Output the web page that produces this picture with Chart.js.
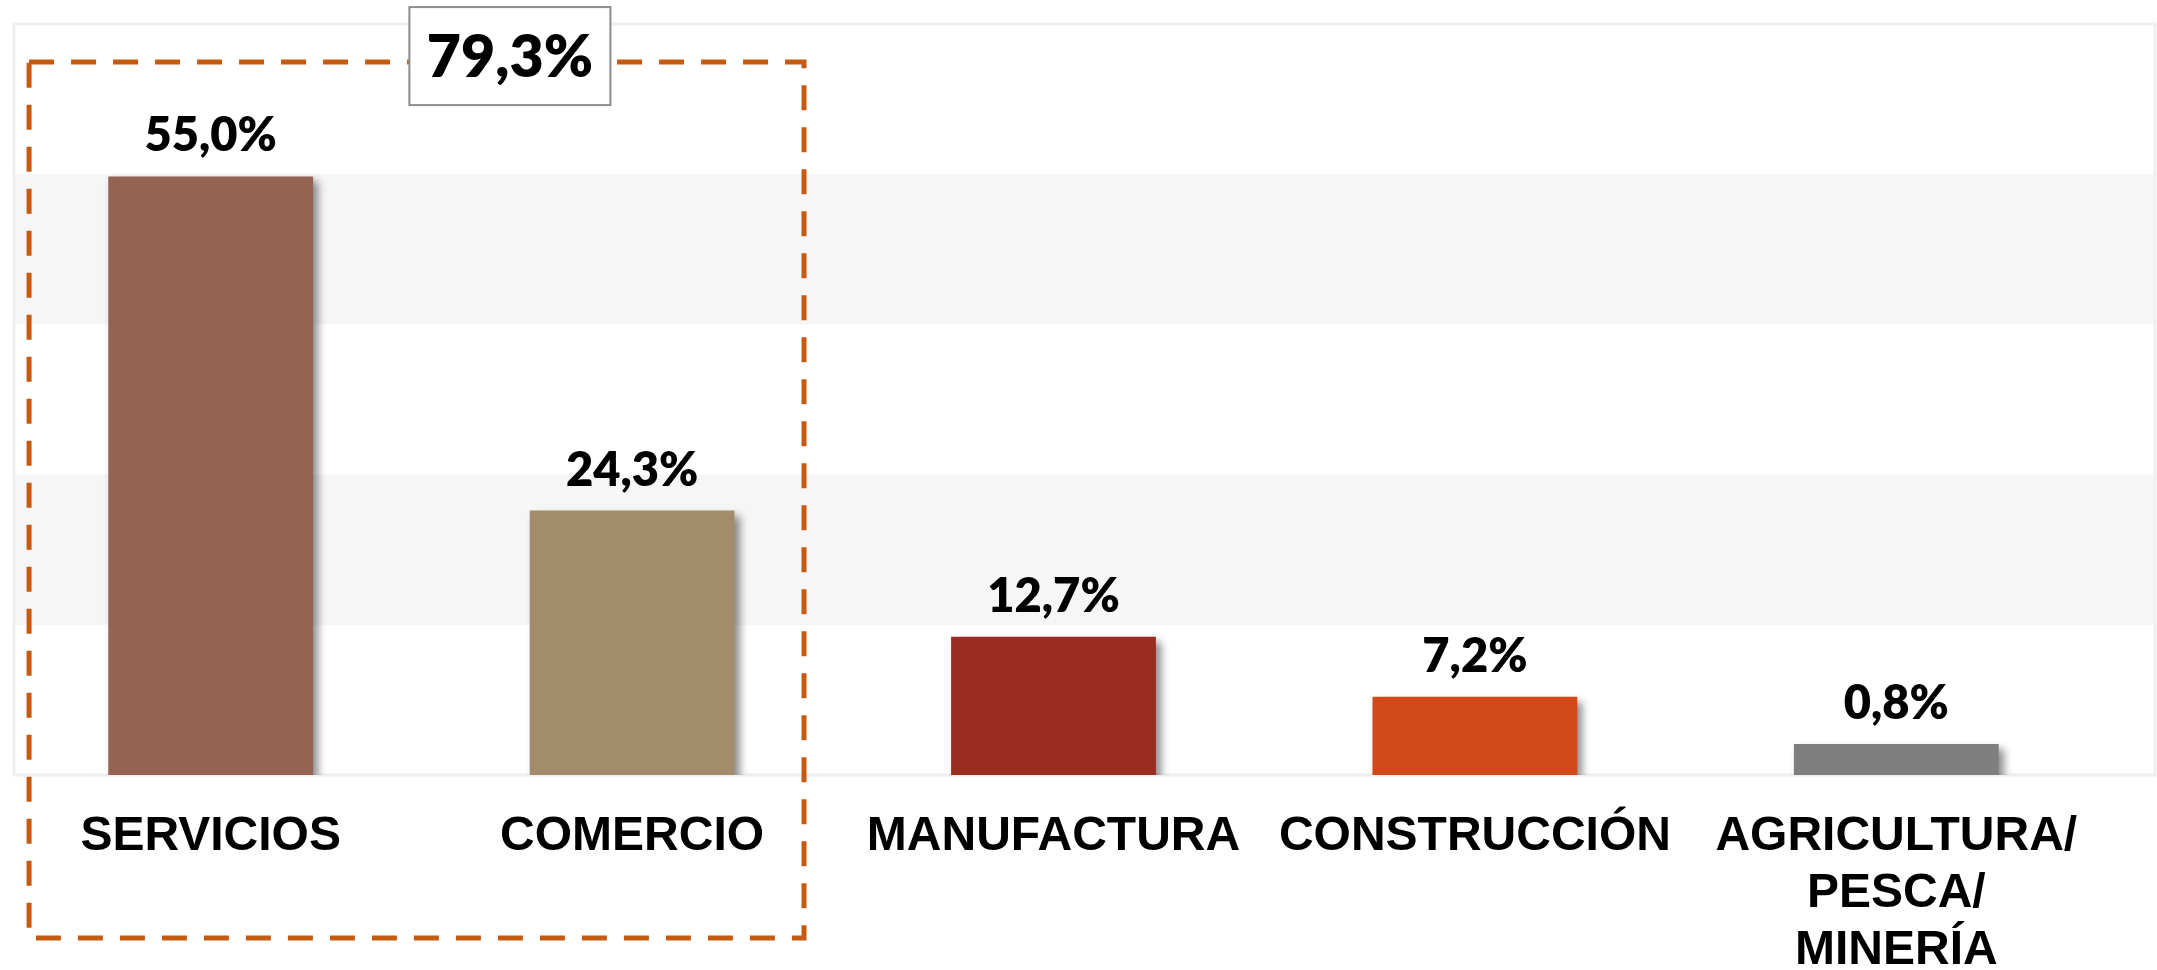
<!DOCTYPE html>
<html><head><meta charset="utf-8">
<script src="https://cdn.jsdelivr.net/npm/chart.js@4.4.1/dist/chart.umd.min.js"></script>
<style>html,body{margin:0;padding:0;background:#fff;overflow:hidden}#wrap{width:2157px;height:970px;position:relative}</style>
</head><body><div id="wrap"><canvas id="c" width="2157" height="970"></canvas></div>
<script>
// ---- data ----
const categories = ['SERVICIOS', 'COMERCIO', 'MANUFACTURA', 'CONSTRUCCIÓN', ['AGRICULTURA/', 'PESCA/', 'MINERÍA']];
const shares = [55.0, 24.3, 12.7, 7.2, 0.8];
const barColors = ['#946352', '#A38C6B', '#9A2C20', '#D14919', '#7F7F7F'];
const highlightGroup = [0, 1];          // categories inside the dashed frame
const yMax = 69;
const bandCount = 5;

const fmt = v => v.toFixed(1).replace('.', ',') + '%';

const decorPlugin = {
  id: 'decor',
  beforeDraw(chart) {
    const ctx = chart.ctx, y = chart.scales.y, a = chart.chartArea;
    const left = a.left + 14, right = chart.width - 2;
    ctx.save();
    for (let i = 0; i < bandCount; i++) {
      if (i % 2 === 1) {
        const y0 = y.getPixelForValue(yMax * i / bandCount);
        const y1 = y.getPixelForValue(yMax * (i + 1) / bandCount);
        ctx.fillStyle = '#F6F6F6';
        ctx.fillRect(left, y1, right - left, y0 - y1);
      }
    }
    ctx.strokeStyle = '#EFEFEF';
    ctx.lineWidth = 3;
    ctx.strokeRect(left, a.top, right - left, a.bottom - a.top);
    ctx.restore();
  },
  beforeDatasetsDraw(chart) {
    const ctx = chart.ctx;
    ctx.save();
    ctx.shadowColor = 'rgba(0,0,0,0.45)';
    ctx.shadowBlur = 8;
    ctx.shadowOffsetX = 5;
    ctx.shadowOffsetY = 5;
  },
  afterDatasetsDraw(chart) {
    const ctx = chart.ctx;
    ctx.restore();
    const meta = chart.getDatasetMeta(0);
    const x = chart.scales.x, y = chart.scales.y;
    // value labels
    ctx.save();
    ctx.fillStyle = '#000';
    ctx.font = "800 47px Lato, 'Liberation Sans', sans-serif";
    ctx.textAlign = 'center';
    ctx.textBaseline = 'alphabetic';
    meta.data.forEach((bar, i) => {
      ctx.fillText(fmt(shares[i]), bar.x, bar.y - 25);
    });
    ctx.restore();
    // dashed frame around highlighted group
    const first = highlightGroup[0], last = highlightGroup[highlightGroup.length - 1];
    const cw = x.getPixelForValue(1) - x.getPixelForValue(0);
    const fx0 = x.getPixelForValue(first) - 0.431 * cw;
    const fx1 = x.getPixelForValue(last) + 0.408 * cw;
    const fy0 = y.getPixelForValue(65.5);
    const fy1 = x.bottom - 32;
    ctx.save();
    ctx.strokeStyle = '#C55A11';
    ctx.lineWidth = 5;
    ctx.setLineDash([25, 17]);
    ctx.strokeRect(fx0, fy0, fx1 - fx0, fy1 - fy0);
    ctx.restore();
    // total box
    const total = highlightGroup.reduce((s, i) => s + shares[i], 0);
    const bx = x.getPixelForValue(first) + 0.71 * (x.getPixelForValue(last) - x.getPixelForValue(first));
    const bw = 201, bh = 98;
    const by = fy0 - 55;
    ctx.save();
    ctx.fillStyle = '#fff';
    ctx.fillRect(bx - bw / 2, by, bw, bh);
    ctx.strokeStyle = '#8C8C8C';
    ctx.lineWidth = 2;
    ctx.strokeRect(bx - bw / 2, by, bw, bh);
    ctx.fillStyle = '#000';
    ctx.font = "800 59px Lato, 'Liberation Sans', sans-serif";
    ctx.textAlign = 'center';
    ctx.textBaseline = 'alphabetic';
    ctx.fillText(fmt(total), bx, by + 70);
    ctx.restore();
  }
};

new Chart(document.getElementById('c'), {
  type: 'bar',
  data: {
    labels: categories,
    datasets: [{
      data: shares,
      backgroundColor: barColors,
      borderWidth: 0,
      minBarLength: 31,
      categoryPercentage: 0.54,
      barPercentage: 0.9
    }]
  },
  options: {
    responsive: false,
    devicePixelRatio: 1,
    animation: false,
    layout: { padding: { left: 0, right: 50, top: 24, bottom: 0 } },
    plugins: { legend: { display: false }, tooltip: { enabled: false } },
    scales: {
      x: {
        grid: { display: false },
        border: { display: false },
        ticks: {
          color: '#000',
          autoSkip: false,
          maxRotation: 0,
          padding: 25,
          font: { family: "'Liberation Sans', Arial, sans-serif", size: 48, weight: 'bold', lineHeight: 1.19 }
        },
        afterFit(scale) { scale.height = 195; }
      },
      y: { display: false, min: 0, max: yMax }
    }
  },
  plugins: [decorPlugin]
});
</script>
</body></html>
